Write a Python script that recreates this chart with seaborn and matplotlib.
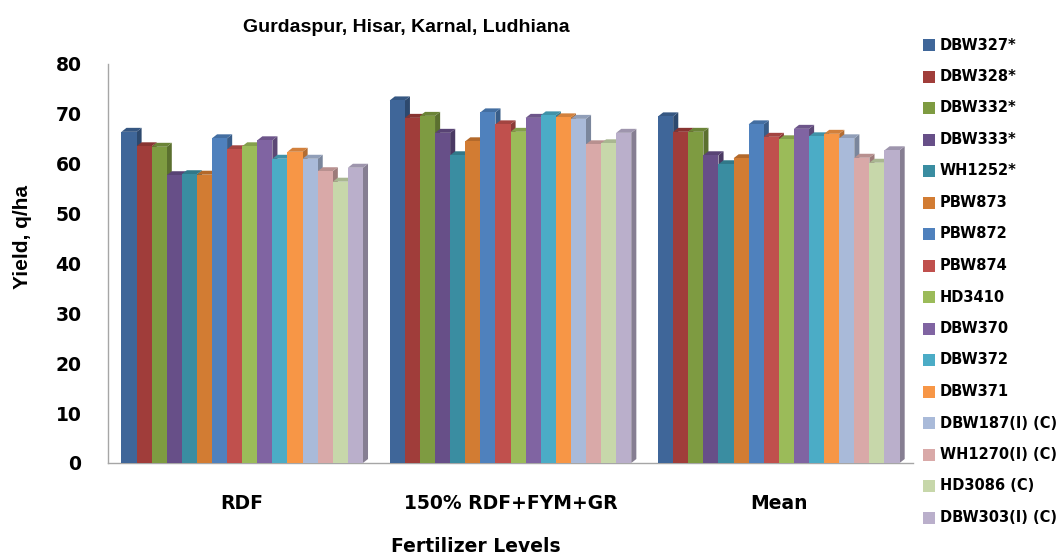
import matplotlib
matplotlib.use("Agg")
import matplotlib.pyplot as plt
import matplotlib.colors as mcolors
from matplotlib.patches import Polygon, Rectangle
import seaborn as sns
import pandas as pd

levels = ["RDF", "150% RDF+FYM+GR", "Mean"]
varieties = ["DBW327*", "DBW328*", "DBW332*", "DBW333*", "WH1252*", "PBW873",
             "PBW872", "PBW874", "HD3410", "DBW370", "DBW372", "DBW371",
             "DBW187(I) (C)", "WH1270(I) (C)", "HD3086 (C)", "DBW303(I) (C)"]
rdf = [66.4, 63.5, 63.4, 57.7, 57.9, 57.8, 65.1, 62.9, 63.5, 64.7, 61.0, 62.4,
       61.0, 58.5, 56.4, 59.2]
rdf150 = [72.7, 69.2, 69.6, 66.2, 61.7, 64.5, 70.3, 67.9, 66.4, 69.2, 69.7, 69.3,
          69.0, 63.9, 64.1, 66.2]
mean = [69.5, 66.4, 66.4, 61.7, 59.9, 61.1, 67.9, 65.4, 64.9, 67.0, 65.5, 66.0,
        65.1, 61.2, 60.2, 62.7]
colors = ["#3F6699", "#A03D3A", "#7E9B41", "#674F88", "#3A8DA1", "#D27C33",
          "#4F81BD", "#C0504D", "#9BBB59", "#8064A2", "#4BACC6", "#F79646",
          "#A9BAD9", "#D9A9A8", "#C7D7AA", "#BAAFCB"]

rows = []
for v, a, b, c in zip(varieties, rdf, rdf150, mean):
    rows.append({"level": levels[0], "variety": v, "yield": a})
    rows.append({"level": levels[1], "variety": v, "yield": b})
    rows.append({"level": levels[2], "variety": v, "yield": c})
df = pd.DataFrame(rows)

sns.set_style("white")
plt.rcParams["text.color"] = "black"
plt.rcParams["xtick.labelcolor"] = "black"
plt.rcParams["ytick.labelcolor"] = "black"
fig = plt.figure(figsize=(10.61, 5.54), dpi=100)
left, right = 108 / 1061, 913 / 1061
bottom, top = 1 - 463 / 554, 1 - 64 / 554
ax = fig.add_axes([left, bottom, right - left, top - bottom])

sns.barplot(data=df, x="level", y="yield", hue="variety", order=levels,
            hue_order=varieties, palette=colors, width=0.9, gap=0,
            saturation=1, legend=False, ax=ax, errorbar=None, linewidth=0,
            zorder=3)

# 3D-like side and top faces derived from each bar's geometry
dx, dy = 0.019, 0.8
for p in list(ax.patches):
    x0, w, h = p.get_x(), p.get_width(), p.get_height()
    fc = mcolors.to_rgb(p.get_facecolor())
    side = tuple(c * 0.72 for c in fc)
    topc = tuple(c * 0.85 for c in fc)
    ax.add_patch(Polygon([(x0 + w, 0), (x0 + w + dx, dy), (x0 + w + dx, h + dy),
                          (x0 + w, h)], closed=True, fc=side, ec="none", zorder=2))
    ax.add_patch(Polygon([(x0, h), (x0 + dx, h + dy), (x0 + w + dx, h + dy),
                          (x0 + w, h)], closed=True, fc=topc, ec="none", zorder=2))

ax.set_xlim(-0.5, 2.5)
ax.set_ylim(0, 80)
ax.set_yticks(range(0, 81, 10))
for s in ["top", "right"]:
    ax.spines[s].set_visible(False)
for s in ["left", "bottom"]:
    ax.spines[s].set_color("#A6A6A6")
    ax.spines[s].set_linewidth(1.0)
ax.set_xticks([-0.5, 0.5, 1.5, 2.5], minor=False)
ax.set_xticklabels([])
ax.set_xticks([0, 1, 2], minor=True)
ax.set_xticklabels(levels, minor=True, fontfamily="DejaVu Sans",
                   fontweight="bold", fontsize=13.5, color="black")
ax.tick_params(axis="x", which="major", length=8, color="#A6A6A6", direction="out")
ax.tick_params(axis="x", which="minor", length=0, pad=22)
ax.tick_params(axis="y", length=6, color="#A6A6A6", direction="out", pad=13,
               labelsize=13.5, labelcolor="black")
for t in ax.get_yticklabels():
    t.set_fontweight("bold")
    t.set_fontfamily("DejaVu Sans")
ax.set_xlabel("")
ax.set_ylabel("")

fig.text(23 / 1061, 1 - 237 / 554, "Yield, q/ha", rotation=90, ha="center",
         va="center", fontsize=15, fontweight="bold",
         fontfamily="Liberation Sans", color="black")
fig.text(406 / 1061, 1 - 28 / 554, "Gurdaspur, Hisar, Karnal, Ludhiana",
         ha="center", va="center", fontsize=14, fontweight="bold",
         fontfamily="Liberation Sans", color="black")
fig.text(476 / 1061, 1 - 546 / 554, "Fertilizer Levels", ha="center",
         va="center", fontsize=13.5, fontweight="bold", fontfamily="DejaVu Sans",
         color="black")

# legend
for i, (v, c) in enumerate(zip(varieties, colors)):
    yc = 45 + i * 31.5
    fig.patches.append(Rectangle((923 / 1061, 1 - (yc + 6) / 554), 12 / 1061,
                                 12 / 554, transform=fig.transFigure,
                                 fc=c, ec="none", figure=fig))
    fig.text(940 / 1061, 1 - yc / 554, v, ha="left", va="center",
             fontsize=10.5, fontweight="bold", fontfamily="DejaVu Sans",
             color="black")

fig.savefig("out.png", dpi=100)
